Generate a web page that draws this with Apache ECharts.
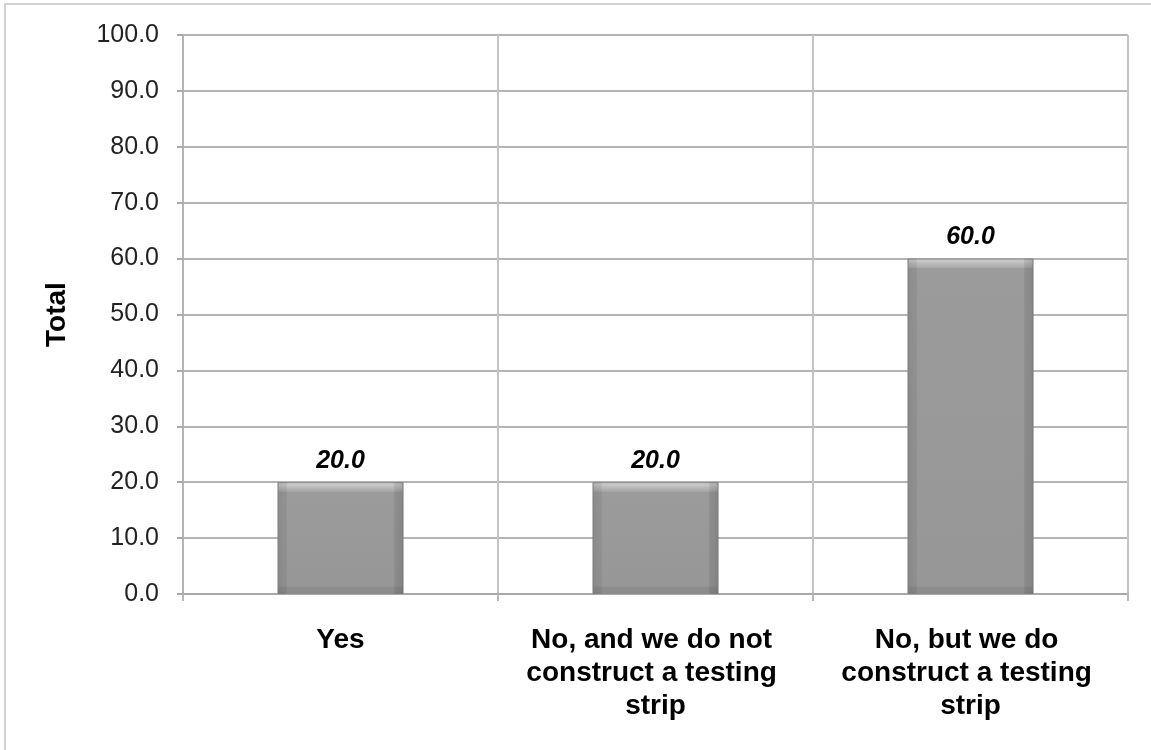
<!DOCTYPE html>
<html>
<head>
<meta charset="utf-8">
<script src="https://cdn.jsdelivr.net/npm/echarts@6/dist/echarts.min.js"></script>
<style>
html,body{margin:0;padding:0;background:#fff;}
#c{width:1151px;height:750px;}
#frame{position:absolute;left:4px;top:3px;width:1151px;height:750px;border-top:2px solid #d2d2d2;border-left:2px solid #d2d2d2;pointer-events:none;}
</style>
</head>
<body>
<div id="c"></div>
<div id="frame"></div>
<script>
const categories = ["Yes", "No, and we do not construct a testing strip", "No, but we do construct a testing strip"];
const values = [20.0, 20.0, 60.0];
const yTicks = {min: 0, max: 100, interval: 10};
const axisTitle = "Total";

const chart = echarts.init(document.getElementById('c'), null, {renderer: 'canvas'});
const plotH = 559;
const font = '"Liberation Sans", Arial, Helvetica, sans-serif';

function vGrad(v) {
  const h = v / yTicks.max * plotH;
  const f = Math.min(0.3, 10 / h);
  return new echarts.graphic.LinearGradient(0, 0, 0, 1, [
    {offset: 0, color: '#d2d2d2'},
    {offset: f * 0.9, color: '#a8a8a8'},
    {offset: f, color: '#9b9b9b'},
    {offset: 1 - f * 0.8, color: '#979797'},
    {offset: 1 - f * 0.7, color: '#8e8e8e'},
    {offset: 1, color: '#8a8a8a'}
  ]);
}
const hGrad = new echarts.graphic.LinearGradient(0, 0, 1, 0, [
  {offset: 0, color: 'rgba(0,0,0,0.10)'},
  {offset: 0.07, color: 'rgba(0,0,0,0.06)'},
  {offset: 0.08, color: 'rgba(0,0,0,0)'},
  {offset: 0.92, color: 'rgba(0,0,0,0)'},
  {offset: 0.93, color: 'rgba(0,0,0,0.08)'},
  {offset: 1, color: 'rgba(0,0,0,0.14)'}
]);

chart.setOption({
  animation: false,
  backgroundColor: '#fff',
  grid: {left: 183, right: 23, top: 35, bottom: 156, containLabel: false},
  xAxis: {
    type: 'category',
    data: categories,
    boundaryGap: true,
    axisLine: {show: true, lineStyle: {color: '#a8a8a8', width: 2}},
    axisTick: {show: true, length: 7, lineStyle: {color: '#b8b8b8', width: 2}},
    splitLine: {show: true, lineStyle: {color: '#c4c4c4', width: 2}},
    axisLabel: {
      interval: 0, margin: 30, color: '#000', fontFamily: font, fontWeight: 'bold', fontSize: 28,
      width: 285, overflow: 'break', lineHeight: 33, align: 'center'
    }
  },
  yAxis: {
    type: 'value',
    min: yTicks.min, max: yTicks.max, interval: yTicks.interval,
    name: axisTitle, nameLocation: 'middle', nameGap: 112, nameRotate: 90,
    nameTextStyle: {color: '#000', fontFamily: font, fontWeight: 'bold', fontSize: 28},
    axisLine: {show: true, lineStyle: {color: '#b4b4b4', width: 2}},
    axisTick: {show: true, length: 6, lineStyle: {color: '#a8a8a8', width: 2}},
    splitLine: {show: true, lineStyle: {color: '#b4b4b4', width: 2}},
    axisLabel: {margin: 24, color: '#222', fontFamily: font, fontSize: 25, formatter: v => v.toFixed(1)}
  },
  series: [
    {
      type: 'bar', data: values.map(v => ({value: v, itemStyle: {color: vGrad(v)}})),
      barWidth: '40%', z: 3,
      itemStyle: {borderColor: '#8c8c8c', borderWidth: 1},
      label: {show: false}
    },
    {
      type: 'bar', data: values, barWidth: '40%', barGap: '-100%', z: 4,
      itemStyle: {color: hGrad},
      label: {
        show: true, position: 'top', distance: 9, formatter: p => p.value.toFixed(1),
        color: '#000', fontFamily: font, fontWeight: 'bold', fontStyle: 'italic', fontSize: 25
      }
    }
  ]
});
</script>
</body>
</html>
